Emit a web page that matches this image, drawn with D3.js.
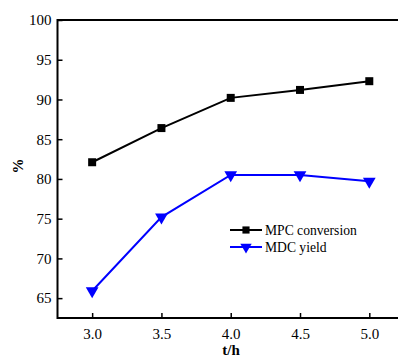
<!DOCTYPE html>
<html>
<head>
<meta charset="utf-8">
<script src="https://cdn.jsdelivr.net/npm/d3@7"></script>
<style>
  body { margin: 0; background: #fff; }
  svg text { font-family: "Liberation Serif", "Times New Roman", serif; }
</style>
</head>
<body>
<div id="chart"></div>
<script>
var times = [3.0, 3.5, 4.0, 4.5, 5.0];
var mpcConversion = [82.1, 86.4, 90.2, 91.2, 92.3];
var mdcYield = [65.9, 75.2, 80.5, 80.5, 79.7];
var xTicks = [3.0, 3.5, 4.0, 4.5, 5.0];
var yTicks = [65, 70, 75, 80, 85, 90, 95, 100];

var width = 398, height = 358;
var plotLeft = 57.5, plotTop = 20, plotBottom = 318;

var svg = d3.select('#chart').append('svg')
  .attr('width', width)
  .attr('height', height);

var x = d3.scaleLinear().domain([2.75, 5.0]).range([plotLeft, 369.3]);
var y = d3.scaleLinear().domain([62.5, 100]).range([plotBottom, plotTop]);

// frame (top + left + bottom; right edge runs off the picture)
svg.append('path')
  .attr('d', 'M' + (width + 5) + ',' + plotTop + 'H' + plotLeft + 'V' + plotBottom + 'H' + (width + 5))
  .attr('fill', 'none').attr('stroke', '#000').attr('stroke-width', 2);

var xAxis = svg.append('g')
  .attr('transform', 'translate(0,' + plotBottom + ')')
  .call(d3.axisBottom(x).tickValues(xTicks).tickFormat(d3.format('.1f'))
    .tickSizeInner(-5).tickSizeOuter(0).tickPadding(10));
var yAxis = svg.append('g')
  .attr('transform', 'translate(' + plotLeft + ',0)')
  .call(d3.axisLeft(y).tickValues(yTicks).tickSizeInner(-5).tickSizeOuter(0).tickPadding(6));

[xAxis, yAxis].forEach(function(g) {
  g.select('.domain').remove();
  g.selectAll('line').attr('stroke', '#000').attr('stroke-width', 1.5);
  g.selectAll('text').attr('fill', '#000').style('font-size', '15px')
    .style('font-family', '"Liberation Serif", serif');
});

var line = d3.line()
  .x(function(d) { return x(d[0]); })
  .y(function(d) { return y(d[1]); });

var series = [
  { name: 'MPC conversion', values: mpcConversion, color: '#000', symbol: d3.symbolSquare, size: 64, rot: 0 },
  { name: 'MDC yield', values: mdcYield, color: '#0000ff', symbol: d3.symbolTriangle, size: 70, rot: 180 }
];

series.forEach(function(s) {
  var pts = times.map(function(t, i) { return [t, s.values[i]]; });
  svg.append('path')
    .attr('d', line(pts))
    .attr('fill', 'none').attr('stroke', s.color).attr('stroke-width', 2);
  svg.selectAll(null).data(pts).enter().append('path')
    .attr('d', d3.symbol().type(s.symbol).size(s.size))
    .attr('transform', function(d) {
      return 'translate(' + x(d[0]) + ',' + y(d[1]) + ') rotate(' + s.rot + ')';
    })
    .attr('fill', s.color);
});

// legend
var legend = svg.append('g').attr('transform', 'translate(230,230)');
series.forEach(function(s, i) {
  var g = legend.append('g').attr('transform', 'translate(0,' + (i * 17) + ')');
  g.append('line').attr('x1', 0).attr('x2', 32).attr('y1', 0).attr('y2', 0)
    .attr('stroke', s.color).attr('stroke-width', 2);
  g.append('path')
    .attr('d', d3.symbol().type(s.symbol).size(s.size * 0.8))
    .attr('transform', 'translate(16,0) rotate(' + s.rot + ')')
    .attr('fill', s.color);
  g.append('text').attr('x', 35).attr('y', 4.5)
    .style('font-size', '13.6px').attr('fill', '#000').text(s.name);
});

// axis titles
svg.append('text')
  .attr('x', 231).attr('y', 355)
  .attr('text-anchor', 'middle')
  .style('font-size', '15px').style('font-weight', 'bold')
  .text('t/h');
svg.append('text')
  .attr('transform', 'translate(23,166) rotate(-90)')
  .attr('text-anchor', 'middle')
  .style('font-size', '15px').style('font-weight', 'bold')
  .text('%');
</script>
</body>
</html>
